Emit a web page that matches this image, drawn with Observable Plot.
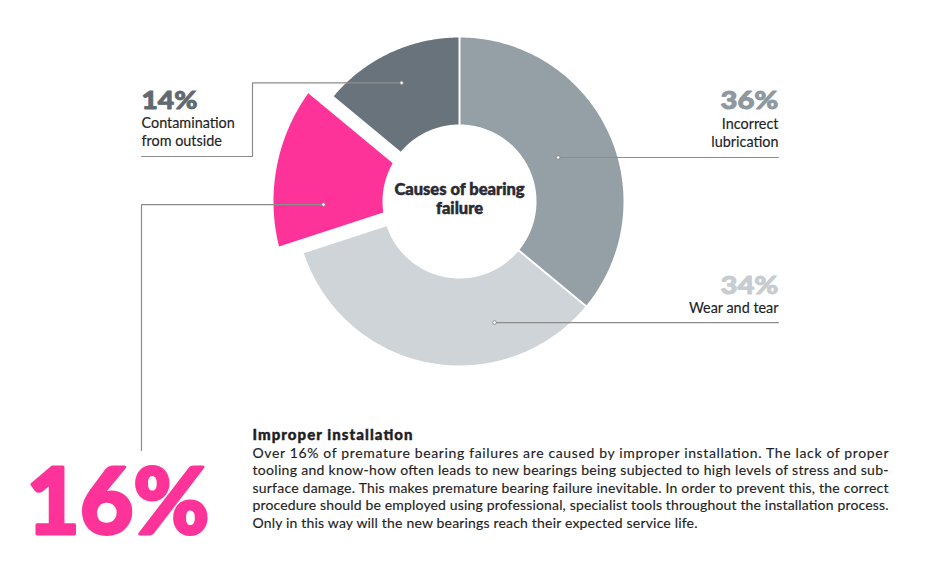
<!DOCTYPE html>
<html>
<head>
<meta charset="utf-8">
<script src="https://cdn.jsdelivr.net/npm/d3@7"></script>
<script src="https://cdn.jsdelivr.net/npm/@observablehq/plot@0.6"></script>
<style>
  html, body { margin: 0; padding: 0; background: #ffffff; }
  #chart svg { display: block; }
</style>
</head>
<body>
<div id="chart"></div>
<script>
// ---------- data ----------
const causes = ["Incorrect lubrication", "Wear and tear", "Improper installation", "Contamination from outside"];
const shares = [36, 34, 16, 14];
const shareLabels = ["36%", "34%", "16%", "14%"];
const labelLines = [["Incorrect", "lubrication"], ["Wear and tear"], [], ["Contamination", "from outside"]];
const centerTitle = ["Causes of bearing", "failure"];
const noteTitle = "Improper installation";
const noteLines = [
  "Over 16% of premature bearing failures are caused by improper installation. The lack of proper",
  "tooling and know-how often leads to new bearings being subjected to high levels of stress and sub-",
  "surface damage. This makes premature bearing failure inevitable. In order to prevent this, the correct",
  "procedure should be employed using professional, specialist tools throughout the installation process.",
  "Only in this way will the new bearings reach their expected service life."
];

// ---------- layout & style ----------
const W = 931, H = 564;
const C = {x: 459, y: 201};
const rInner = 77, rOuter = 164, rOuterExploded = 186;
const explodedIndex = 2;
const padNormal = 1, padExploded = 13;
const sliceColors = ["#949fa6", "#cfd4d8", "#fd3399", "#68737c"];
const pctColors = ["#8e98a0", "#c6ccd0", "#fd3399", "#5f6a73"];
const lineColor = "#8c8c8c";
const FONT = "Lato, 'Noto Sans', sans-serif";
// dot placement inside each slice: fraction along the slice's angle, radius
const dotPlace = [{f: 0.509, r: 108}, {f: 0.28, r: 126}, {f: 0.29, r: 136}, {f: 0.484, r: 132}];

const pie = d3.pie().sort(null).value(d => d)(shares);
const pt = (r, a) => ({x: C.x + r * Math.sin(a), y: C.y - r * Math.cos(a)});

// slice polygons
const sliceRows = pie.map((p, i) => {
  const ro = i === explodedIndex ? rOuterExploded : rOuter;
  const pad = i === explodedIndex ? padExploded : padNormal;
  const ao0 = p.startAngle + Math.asin(pad / ro), ao1 = p.endAngle - Math.asin(pad / ro);
  const ai0 = p.startAngle + Math.asin(pad / rInner), ai1 = p.endAngle - Math.asin(pad / rInner);
  const pts = [];
  const n = 120;
  for (let k = 0; k <= n; k++) pts.push({...pt(ro, ao0 + (ao1 - ao0) * k / n), slice: causes[i]});
  for (let k = n; k >= 0; k--) pts.push({...pt(rInner, ai0 + (ai1 - ai0) * k / n), slice: causes[i]});
  return pts;
});

// dots
const dots = pie.map((p, i) => pt(dotPlace[i].r, p.startAngle + (p.endAngle - p.startAngle) * dotPlace[i].f));

// leader lines
const xRight = 778, xBoxRight = 252, xLeft = 141, yBox = 156, yBig = 450;
const leaders = [
  [dots[0], {x: xRight, y: dots[0].y}],
  [dots[1], {x: xRight, y: dots[1].y}],
  [dots[2], {x: xLeft, y: dots[2].y}, {x: xLeft, y: yBig}],
  [dots[3], {x: xBoxRight, y: dots[3].y}, {x: xBoxRight, y: yBox}, {x: xLeft, y: yBox}]
];

// label positions (baselines)
const labelPos = [
  {x: xRight, pctY: 108, lineY: [128, 146], anchor: "end", pctW: 58},
  {x: xRight, pctY: 293, lineY: [312], anchor: "end", pctW: 58},
  {x: 26, pctY: 533, lineY: [], anchor: "start", pctW: 183},
  {x: xLeft, pctY: 108, lineY: [127, 145], anchor: "start", pctW: 56}
];

const pctRows = shares.map((s, i) => ({x: labelPos[i].x, y: labelPos[i].pctY, t: shareLabels[i], i}));
const smallPct = pctRows.filter(d => d.i !== explodedIndex);
const bigPct = pctRows.filter(d => d.i === explodedIndex);
const labelRows = labelLines.flatMap((ls, i) => ls.map((t, j) => ({x: labelPos[i].x, y: labelPos[i].lineY[j], t, anchor: labelPos[i].anchor})));

const centerRows = centerTitle.map((t, j) => ({x: C.x, y: [194, 213][j], t}));
const noteX = 252, noteRight = 888;
const noteRows = noteLines.map((t, j) => ({x: noteX, y: 457 + j * 17.6, t, j}));

const marks = [];
sliceRows.forEach((rows, i) => {
  marks.push(Plot.line(rows, {x: "x", y: "y", fill: sliceColors[i], stroke: "none", curve: "linear-closed"}));
});
leaders.forEach(l => marks.push(Plot.line(l, {x: "x", y: "y", stroke: lineColor, strokeWidth: 1.2})));
marks.push(Plot.dot(dots, {x: "x", y: "y", r: 1.8, fill: "white", stroke: "#7d7d7d", strokeWidth: 0.8}));

const pctEnd = smallPct.filter(d => labelPos[d.i].anchor === "end");
const pctStart = smallPct.filter(d => labelPos[d.i].anchor === "start");
marks.push(Plot.text(pctEnd, {x: "x", y: "y", text: "t", textAnchor: "end", lineAnchor: "bottom", fontSize: 25, fontWeight: 900, fill: d => pctColors[d.i], stroke: d => pctColors[d.i], strokeWidth: 0.9, ariaDescription: "pctend"}));
marks.push(Plot.text(pctStart, {x: "x", y: "y", text: "t", textAnchor: "start", lineAnchor: "bottom", fontSize: 25, fontWeight: 900, fill: d => pctColors[d.i], stroke: d => pctColors[d.i], strokeWidth: 0.9, ariaDescription: "pctstart"}));
marks.push(Plot.text(bigPct, {x: "x", y: "y", text: "t", textAnchor: "start", lineAnchor: "bottom", fontSize: 92, fontWeight: 900, fill: pctColors[explodedIndex], stroke: pctColors[explodedIndex], strokeWidth: 3, strokeLinejoin: "round", ariaDescription: "bigpct"}));
marks.push(Plot.text(labelRows.filter(d => d.anchor === "end"), {x: "x", y: "y", text: "t", textAnchor: "end", lineAnchor: "bottom", fontSize: 14.4, fill: "#1e1e24", stroke: "#1e1e24", strokeWidth: 0.15}));
marks.push(Plot.text(labelRows.filter(d => d.anchor === "start"), {x: "x", y: "y", text: "t", textAnchor: "start", lineAnchor: "bottom", fontSize: 14.4, fill: "#1e1e24", stroke: "#1e1e24", strokeWidth: 0.15}));
marks.push(Plot.text(centerRows, {x: "x", y: "y", text: "t", textAnchor: "middle", lineAnchor: "bottom", fontSize: 16.5, fontWeight: 900, fill: "#2a2a34", stroke: "#2a2a34", strokeWidth: 0.5}));
marks.push(Plot.text([{x: noteX, y: 439, t: noteTitle}], {x: "x", y: "y", text: "t", textAnchor: "start", lineAnchor: "bottom", fontSize: 15, fontWeight: 900, fill: "#1e1e24", stroke: "#1e1e24", strokeWidth: 0.4, ariaDescription: "notetitle"}));
marks.push(Plot.text(noteRows, {x: "x", y: "y", text: "t", textAnchor: "start", lineAnchor: "bottom", fontSize: 14, fill: "#1e1e24", stroke: "#1e1e24", strokeWidth: 0.15, ariaDescription: "notebody"}));

const chart = Plot.plot({
  width: W, height: H,
  margin: 0,
  x: {type: "linear", domain: [0, W], range: [0, W], axis: null},
  y: {type: "linear", domain: [0, H], range: [0, H], axis: null},
  style: {fontFamily: FONT, background: "#ffffff", overflow: "visible"},
  marks
});
document.getElementById("chart").appendChild(chart);

// justify paragraph lines (all but the last) and fit widths
const svg = d3.select(chart);
svg.selectAll('g[aria-description="notebody"] text').each(function(d, k) {
  const target = k < noteLines.length - 1 ? noteRight - noteX : 445;
  d3.select(this).attr("textLength", target).attr("lengthAdjust", "spacing");
});
svg.selectAll('g[aria-description="notetitle"] text').attr("textLength", 160).attr("lengthAdjust", "spacing");
svg.selectAll('g[aria-description="bigpct"] text').attr("textLength", labelPos[explodedIndex].pctW).attr("lengthAdjust", "spacingAndGlyphs");
svg.selectAll('g[aria-description="pctend"] text').each(function(d, k) {
  d3.select(this).attr("textLength", labelPos[pctEnd[k].i].pctW).attr("lengthAdjust", "spacingAndGlyphs");
});
svg.selectAll('g[aria-description="pctstart"] text').each(function(d, k) {
  d3.select(this).attr("textLength", labelPos[pctStart[k].i].pctW).attr("lengthAdjust", "spacingAndGlyphs");
});
</script>
</body>
</html>
